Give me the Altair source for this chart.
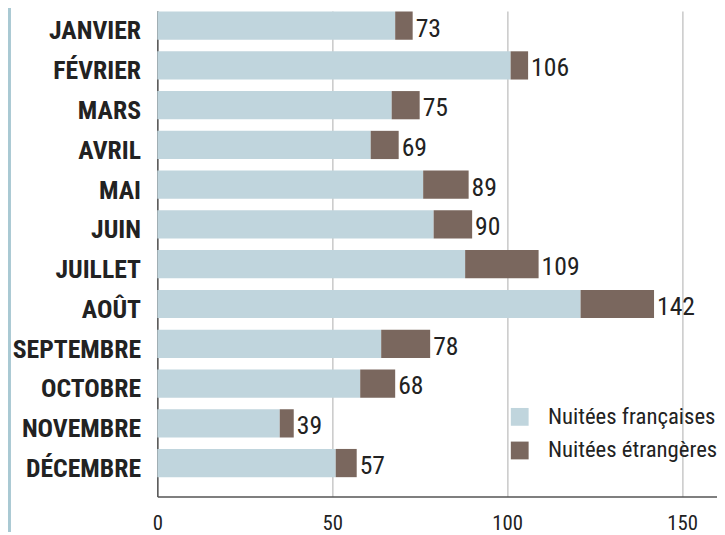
import altair as alt
import pandas as pd

months = ["JANVIER", "FÉVRIER", "MARS", "AVRIL", "MAI", "JUIN", "JUILLET",
          "AOÛT", "SEPTEMBRE", "OCTOBRE", "NOVEMBRE", "DÉCEMBRE"]
french = [68, 101, 67, 61, 76, 79, 88, 121, 64, 58, 35, 51]
foreign = [5, 5, 8, 8, 13, 11, 21, 21, 14, 10, 4, 6]
totals = [73, 106, 75, 69, 89, 90, 109, 142, 78, 68, 39, 57]
series = ["Nuitées françaises", "Nuitées étrangères"]
colors = ["#c0d5dd", "#7a675e"]
x_ticks = [0, 50, 100, 150]

FONT = "Roboto Condensed, DejaVu Sans Condensed, Roboto"

rows = []
for m, f, e in zip(months, french, foreign):
    rows.append({"mois": m, "type": series[0], "valeur": f, "ordre": 0})
    rows.append({"mois": m, "type": series[1], "valeur": e, "ordre": 1})
long_df = pd.DataFrame(rows)
tot_df = pd.DataFrame({"mois": months, "total": totals})

y_enc = alt.Y("mois:N", sort=months,
              scale=alt.Scale(paddingInner=0.29, paddingOuter=0.25, align=0.03),
              axis=alt.Axis(title=None, ticks=False, labelFont=FONT, labelFontWeight="bold",
                            labelFontSize=26, labelColor="#222222", labelPadding=17,
                            labelBaseline="alphabetic", labelOffset=14, labelLimit=300,
                            domainColor="#555555", domainWidth=1.5, grid=False))

x_scale = alt.Scale(domain=[0, 160], nice=False)

bars = alt.Chart(long_df).mark_bar().encode(
    x=alt.X("valeur:Q", stack="zero", scale=x_scale,
            axis=alt.Axis(title=None, values=x_ticks, ticks=False, labelFont=FONT,
                          labelFontSize=21, labelColor="#222222", labelPadding=16,
                          domainColor="#555555", domainWidth=1.5,
                          grid=True, gridColor="#c8c8c8", gridWidth=1.5,
                          labelFlush=False)),
    y=y_enc,
    color=alt.Color("type:N", scale=alt.Scale(domain=series, range=colors),
                    legend=alt.Legend(title=None, orient="none", legendX=355, legendY=399,
                                      symbolType="square", symbolSize=324,
                                      symbolStrokeWidth=0, labelFont=FONT,
                                      labelFontSize=23, labelColor="#222222",
                                      labelOffset=17, rowPadding=10, padding=0,
                                      labelLimit=400)),
    order=alt.Order("ordre:Q"),
)

labels = alt.Chart(tot_df).mark_text(align="left", baseline="alphabetic", dx=3, dy=11,
                                     font=FONT, fontSize=26, color="#222222").encode(
    x=alt.X("total:Q", scale=x_scale),
    y=alt.Y("mois:N", sort=months),
    text="total:Q",
)

strip = alt.Chart(pd.DataFrame({"a": [0]})).mark_rect(color="#a9c9d3").encode(
    x=alt.value(-151), x2=alt.value(-148), y=alt.value(-8), y2=alt.value(527))

chart = alt.layer(strip, bars, labels).properties(
    width=566, height=491,
    autosize=alt.AutoSizeParams(type="none"),
    padding={"left": 151, "top": 0, "right": 0, "bottom": 36},
).configure_view(stroke=None)

chart.save("out.html", embed_options={"renderer": "svg", "actions": False})
